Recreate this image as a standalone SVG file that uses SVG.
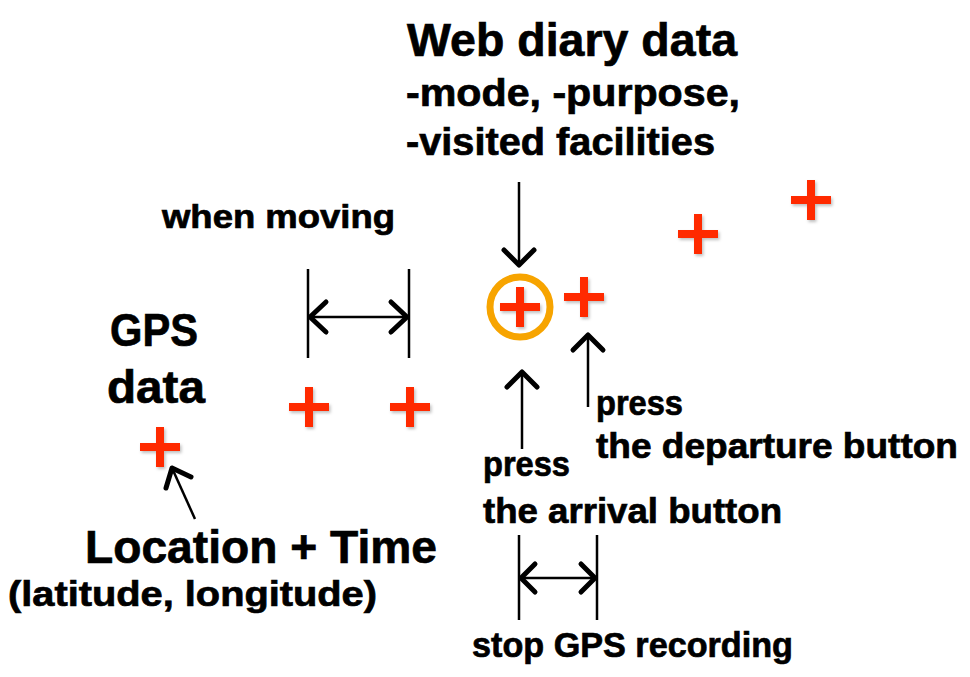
<svg xmlns="http://www.w3.org/2000/svg" width="970" height="677" viewBox="0 0 970 677">
<defs>
<filter id="sh" x="-30%" y="-30%" width="160%" height="160%">
<feDropShadow dx="1.5" dy="2" stdDeviation="1.5" flood-color="#000" flood-opacity="0.25"/>
</filter>
</defs>
<style>
.t{font-family:"Liberation Sans",Arial,sans-serif;font-weight:bold;fill:#000;stroke:#000;stroke-width:0.7}
.cross{stroke:#FF2A00;stroke-width:8;fill:none;filter:url(#sh)}
.ln{stroke:#000;stroke-width:2.5;fill:none}
.hd{stroke:#000;stroke-width:5;fill:none;stroke-linecap:round;stroke-linejoin:round}
</style>
<rect width="970" height="677" fill="#fff"/>

<g id="web-diary">
<text class="t" x="407" y="56" font-size="47" textLength="330" lengthAdjust="spacingAndGlyphs">Web diary data</text>
<text class="t" x="406" y="106" font-size="38" textLength="334" lengthAdjust="spacingAndGlyphs">-mode, -purpose,</text>
<text class="t" x="406" y="155" font-size="38" textLength="309" lengthAdjust="spacingAndGlyphs">-visited facilities</text>
</g>
<g id="when-moving">
<text class="t" x="162" y="228" font-size="33" textLength="233" lengthAdjust="spacingAndGlyphs">when moving</text>
</g>
<g id="gps-data">
<text class="t" x="110" y="346" font-size="46" textLength="88" lengthAdjust="spacingAndGlyphs">GPS</text>
<text class="t" x="107" y="403" font-size="46" textLength="98" lengthAdjust="spacingAndGlyphs">data</text>
</g>
<g id="location-time">
<text class="t" x="85" y="563" font-size="47" textLength="352" lengthAdjust="spacingAndGlyphs">Location + Time</text>
<text class="t" x="8" y="606" font-size="35" textLength="369" lengthAdjust="spacingAndGlyphs">(latitude, longitude)</text>
</g>
<g id="press-arrival">
<text class="t" x="483" y="476" font-size="35" textLength="87" lengthAdjust="spacingAndGlyphs">press</text>
<text class="t" x="483" y="523" font-size="35" textLength="299" lengthAdjust="spacingAndGlyphs">the arrival button</text>
</g>
<g id="press-departure">
<text class="t" x="596" y="415" font-size="35" textLength="87" lengthAdjust="spacingAndGlyphs">press</text>
<text class="t" x="596" y="458" font-size="35" textLength="362" lengthAdjust="spacingAndGlyphs">the departure button</text>
</g>
<g id="stop-gps">
<text class="t" x="472" y="657" font-size="35" textLength="321" lengthAdjust="spacingAndGlyphs">stop GPS recording</text>
</g>

<g id="points">
<path class="cross" d="M140 447h40M160 427v40"/>
<path class="cross" d="M289 407h40M309 387v40"/>
<path class="cross" d="M390 407h40M410 387v40"/>
<circle cx="520" cy="307" r="30" fill="none" stroke="#F7A400" stroke-width="7"/>
<path class="cross" d="M500 307h40M520 287v40"/>
<path class="cross" d="M564 297h40M584 277v40"/>
<path class="cross" d="M678 234h40M698 214v40"/>
<path class="cross" d="M791 200h40M811 180v40"/>
</g>

<g id="connectors">
<path class="ln" d="M519 182V265"/>
<path class="hd" d="M504 250L519 265L534 250"/>
<path class="ln" d="M522 449V372"/>
<path class="hd" d="M507 387L522 372L537 387"/>
<path class="ln" d="M588 407V335"/>
<path class="hd" d="M573 350L588 335L603 350"/>
<path class="ln" d="M195 519L172 468"/>
<path class="hd" d="M166 488L172 468L191 477"/>
<path class="ln" d="M308 269V358M409 269V358M309 317H408"/>
<path class="hd" d="M326 302L310 317L326 332M391 302L407 317L391 332"/>
<path class="ln" d="M519 535V620M597 535V620M520 578H596"/>
<path class="hd" d="M535 564L521 578L535 592M581 564L595 578L581 592"/>
</g>
</svg>
